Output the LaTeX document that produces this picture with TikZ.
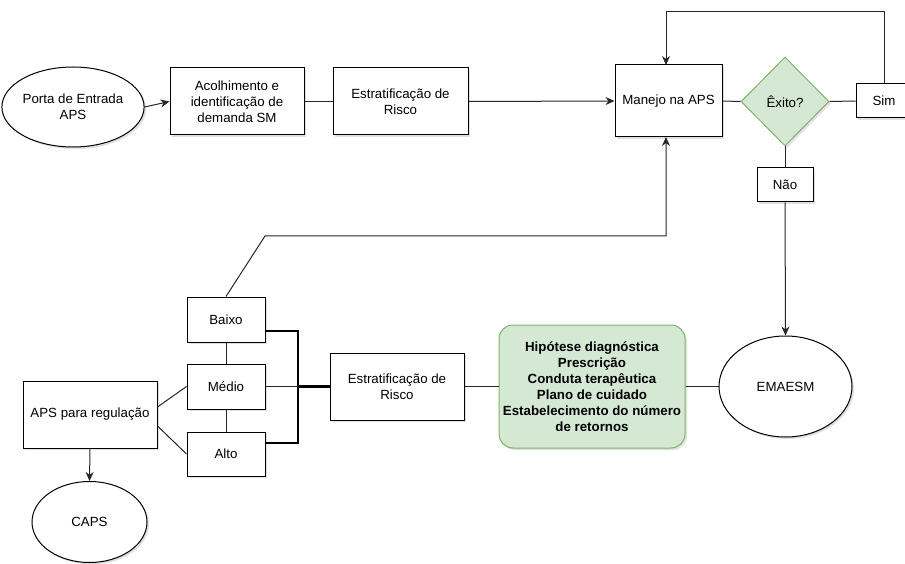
\documentclass[tikz,border=0pt]{standalone}
\usepackage{fontspec}
\setmainfont{Liberation Sans}
\usetikzlibrary{shapes.geometric,arrows.meta,shadows,calc}
\definecolor{gfill}{HTML}{D5E8D4}
\definecolor{gline}{HTML}{82B366}
\definecolor{ln}{HTML}{262626}
\tikzset{
  shd/.style={drop shadow={opacity=0.12,shadow xshift=2pt,shadow yshift=-2pt,fill=black}},
  boxn/.style={draw=black,line width=1pt,fill=white,shd,rectangle,inner sep=2pt,align=center,font=\fontsize{13.3}{16}\selectfont},
  elln/.style={draw=black,line width=1pt,fill=white,shd,ellipse,inner sep=0pt,align=center,font=\fontsize{13.3}{16}\selectfont},
  conn/.style={draw=ln,line width=1pt},
  arr/.style={conn,-{Stealth[length=9pt,width=8pt]}},
  thickc/.style={draw=black,line width=2.2pt},
}
\begin{document}
\begin{tikzpicture}[x=1pt,y=-1pt]
\useasboundingbox (0,0) rectangle (905,564);
% top row
\node[elln,minimum width=135,minimum height=80] (porta) at (73,107) {Porta de Entrada\\APS};
\node[boxn,minimum width=134,minimum height=67] (acol) at (237,101.5) {Acolhimento e\\identificação de\\demanda SM};
\node[boxn,minimum width=135,minimum height=67] (est1) at (400.5,101.5) {Estratificação de\\Risco};
\node[boxn,minimum width=107,minimum height=72] (manejo) at (668.5,101) {Manejo na APS};
\node[diamond,draw=gline,line width=1pt,fill=gfill,shd,inner sep=0pt,minimum width=88,minimum height=89,font=\fontsize{13.3}{16}\selectfont] (exito) at (785,101.5) {Êxito?};
\node[boxn,minimum width=56,minimum height=34] (sim) at (884,101) {Sim};
\node[boxn,minimum width=56,minimum height=34] (nao) at (785,185) {Não};
% bottom
\node[boxn,minimum width=78,minimum height=45] (baixo) at (226,319.5) {Baixo};
\node[boxn,minimum width=78,minimum height=45] (medio) at (226,386.5) {Médio};
\node[boxn,minimum width=78,minimum height=44] (alto) at (226,454) {Alto};
\node[boxn,minimum width=134,minimum height=67] (apsreg) at (90,414.5) {APS para regulação};
\node[elln,minimum width=115,minimum height=81] (caps) at (89.5,522) {CAPS};
\node[boxn,minimum width=134,minimum height=67] (est2) at (397,386.5) {Estratificação de\\Risco};
\node[draw=gline,line width=1pt,fill=gfill,shd,rounded corners=14pt,minimum width=186,minimum height=123,inner sep=2pt,align=center,font=\fontsize{13.3}{16}\selectfont\bfseries] (green) at (592,386.5) {Hipótese diagnóstica\\Prescrição\\Conduta terapêutica\\Plano de cuidado\\Estabelecimento do número\\de retornos};
\node[elln,minimum width=133,minimum height=101] (emaesm) at (785.5,386.5) {EMAESM};
% coordinates
\coordinate (loopA) at (884,12);
\coordinate (loopB) at (666,12);
\coordinate (mtop) at (666,65);
\coordinate (mbot) at (666,137);
\coordinate (bk1) at (265,236);
\coordinate (bk2) at (666,236);
\coordinate (jn) at (298,386.5);
\coordinate (jt) at (298,331);
\coordinate (jb) at (298,443);
% connectors top
\draw[arr] (porta.east) -- (acol.west);
\draw[conn] (acol.east) -- (est1.west);
\draw[arr] (est1.east) -- (manejo.west);
\draw[conn] (manejo.east) -- (exito.west);
\draw[conn] (exito.east) -- (sim.west);
\draw[conn] (exito.south) -- (nao.north);
\draw[arr] (nao.south) -- (emaesm.north);
\draw[arr] (sim.north) -- (loopA) -- (loopB) -- (mtop);
\draw[arr] (baixo.north) -- (bk1) -- (bk2) -- (mbot);
% bottom connectors
\draw[conn] (baixo.south) -- (medio.north);
\draw[conn] (medio.south) -- (alto.north);
\draw[conn] ([yshift=7.5pt]apsreg.east) -- (medio.west);
\draw[conn] ([yshift=-11.5pt]apsreg.east) -- (alto.west);
\draw[arr] (apsreg.south) -- (caps.north);
\draw[thickc] ([yshift=-11.5pt]baixo.east) -- (jt) -- (jb) -- ([yshift=11pt]alto.east);
\draw[conn] (medio.east) -- (jn);
\draw[thickc] (jn) -- (est2.west);
\draw[conn] (est2.east) -- (green.west);
\draw[conn] (green.east) -- (emaesm.west);
\end{tikzpicture}
\end{document}
